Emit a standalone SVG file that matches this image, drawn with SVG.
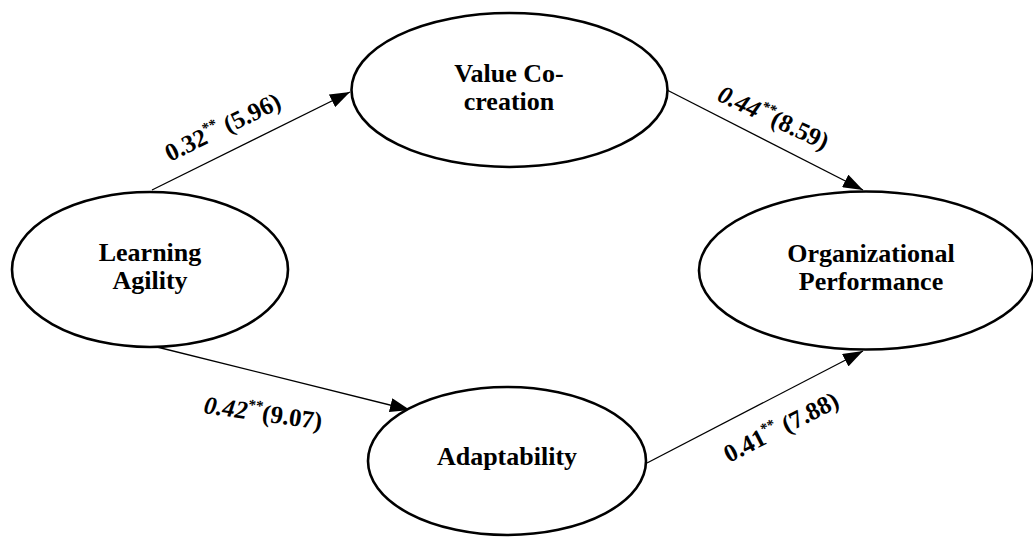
<svg xmlns="http://www.w3.org/2000/svg" width="1033" height="539" viewBox="0 0 1033 539">
<style>
.node{fill:#fff;stroke:#000;stroke-width:2.6}
.nt{font-family:"Liberation Serif","Times New Roman",serif;font-weight:bold;font-size:26px;text-anchor:middle;fill:#000}
.edge{stroke:#000;stroke-width:1.3;fill:none}
.lbl{font-family:"Liberation Serif","Times New Roman",serif;font-weight:bold;font-size:25px;fill:#000}
.sup{font-size:15px}
.it{font-style:italic}
</style>
<defs>
<marker id="ah" markerWidth="20" markerHeight="14" refX="20" refY="7" orient="auto" markerUnits="userSpaceOnUse">
<path d="M0,0 L20,7 L0,14 z" fill="#000"/>
</marker>
</defs>
<rect width="1033" height="539" fill="#fff"/>
<g id="connectors">
<line class="edge" x1="152" y1="190" x2="350" y2="92" marker-end="url(#ah)"/>
<line class="edge" x1="667" y1="90" x2="863" y2="190" marker-end="url(#ah)"/>
<line class="edge" x1="157" y1="347" x2="410" y2="410" marker-end="url(#ah)"/>
<line class="edge" x1="647" y1="463" x2="863" y2="351" marker-end="url(#ah)"/>
</g>
<g id="node-learning-agility">
<ellipse class="node" cx="150" cy="269.5" rx="138" ry="77.5"/>
<text class="nt" x="150" y="261">Learning</text>
<text class="nt" x="150" y="289">Agility</text>
</g>
<g id="node-value-cocreation">
<ellipse class="node" cx="509.5" cy="90" rx="158" ry="77"/>
<text class="nt" x="509" y="82">Value Co-</text>
<text class="nt" x="509" y="110">creation</text>
</g>
<g id="node-organizational-performance">
<ellipse class="node" cx="866" cy="270.5" rx="167" ry="79"/>
<text class="nt" x="871" y="262">Organizational</text>
<text class="nt" x="871" y="290">Performance</text>
</g>
<g id="node-adaptability">
<ellipse class="node" cx="507" cy="461" rx="139" ry="74"/>
<text class="nt" x="507" y="465">Adaptability</text>
</g>
<g id="labels">
<text class="lbl" x="170" y="162" transform="rotate(-26 170 162)">0.32<tspan class="sup" dy="-10">**</tspan><tspan dy="10"> (5.96)</tspan></text>
<text class="lbl" x="716" y="100" transform="rotate(25 716 100)"><tspan class="it">0.44</tspan><tspan class="sup it" dy="-10">**</tspan><tspan dy="10">(8.59)</tspan></text>
<text class="lbl" x="203" y="413" transform="rotate(8 203 413)"><tspan class="it">0.42</tspan><tspan class="sup" dy="-10">**</tspan><tspan dy="10">(9.07)</tspan></text>
<text class="lbl" x="729" y="463" transform="rotate(-27 729 463)">0.41<tspan class="sup" dy="-10">**</tspan><tspan dy="10"> (7.88)</tspan></text>
</g>
</svg>
